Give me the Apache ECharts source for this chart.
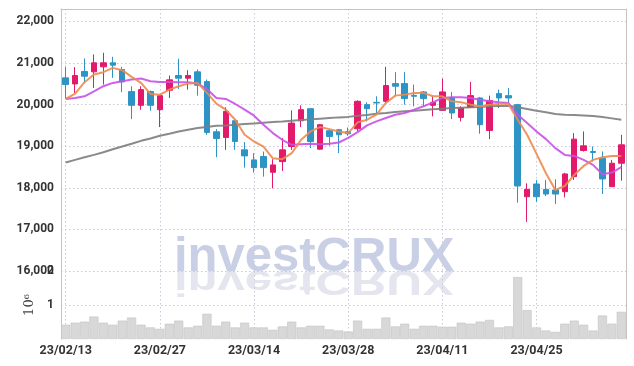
<!DOCTYPE html>
<html>
<head>
<meta charset="utf-8">
<script src="https://cdn.jsdelivr.net/npm/echarts@6/dist/echarts.min.js"></script>
<style>
html,body{margin:0;padding:0;background:#fff;}
#chart{width:634px;height:366px;}
</style>
</head>
<body>
<div id="chart"></div>
<script>
const categories = ['23/02/13','23/02/14','23/02/15','23/02/16','23/02/17','23/02/20','23/02/21','23/02/22','23/02/23','23/02/24',
'23/02/27','23/02/28','23/03/02','23/03/03','23/03/06','23/03/07','23/03/08','23/03/09','23/03/10','23/03/13',
'23/03/14','23/03/15','23/03/16','23/03/17','23/03/20','23/03/21','23/03/22','23/03/23','23/03/24','23/03/27',
'23/03/28','23/03/29','23/03/30','23/03/31','23/04/03','23/04/04','23/04/05','23/04/06','23/04/07','23/04/10',
'23/04/11','23/04/12','23/04/13','23/04/14','23/04/17','23/04/18','23/04/19','23/04/20','23/04/21','23/04/24',
'23/04/25','23/04/26','23/04/27','23/04/28','23/05/02','23/05/03','23/05/04','23/05/08','23/05/09','23/05/10'];

const opens  = [20644,20499,20797,20789,20910,21006,20845,20314,19984,20314,
19879,20346,20700,20636,20789,20555,19348,19211,19614,18913,
18672,18752,18374,18631,18993,19614,19903,18930,19372,19396,
19350,19420,20000,20056,20080,20507,20507,20225,20306,19984,
19863,20161,19694,19935,20161,19380,20266,20217,20000,17786,
18092,17964,17948,17907,18269,18897,18873,18712,18027,18591];
const closes = [20483,20700,20684,21006,21006,20950,20547,19984,20362,19984,
20217,20596,20636,20700,20467,19331,19187,19839,19114,18768,
18486,18486,18551,18913,19557,19879,19114,19517,19235,19276,
19300,20080,19903,20040,20459,20443,20145,20201,20145,20056,
20306,19799,19919,20217,19517,20097,20161,20161,18044,17964,
17786,17851,17851,18334,19171,19010,18850,18213,18591,19034];
const lows   = [20137,20282,20523,20402,20483,20644,20298,19654,19879,19855,
19461,20161,20378,20362,20217,19276,18736,18913,18913,18486,
18365,18269,17988,18406,18913,19461,18954,18913,19010,18833,
19250,19356,19597,19758,20040,20201,20000,19960,19944,19718,
19855,19654,19597,19919,19300,19171,19919,20024,17641,17182,
17665,17800,17609,17770,18189,18873,18631,17851,18027,18172];
const highs  = [20910,20902,21111,21208,21248,21151,20910,20443,20443,20340,
20240,20700,21103,20829,20845,20604,19412,19936,19638,19099,
18833,18873,18688,19195,19863,19984,19903,19530,19412,19412,
19450,20104,20056,20201,20910,20781,20781,20483,20330,20201,
20628,20306,19960,20547,20185,20217,20362,20403,20020,18108,
18189,18189,18205,18360,19316,19356,18993,18873,18672,19275];

const ma5 = [20137,20266,20539,20724,20781,20885,20829,20668,20523,20258,
20241,20362,20443,20507,20523,20282,20024,19879,19638,19276,
19114,18993,18711,18688,18833,19155,19356,19461,19412,19356,
19316,19573,19638,19758,20040,20217,20241,20282,20282,20201,
20201,20080,20056,20000,19960,20000,20024,20024,19638,19275,
18817,18350,17948,18044,18309,18527,18672,18736,18768,18768];
const ma20 = [20137,20161,20201,20322,20443,20523,20563,20604,20628,20563,
20547,20547,20539,20539,20507,20378,20161,20137,20016,19879,
19734,19517,19316,19155,19034,19050,19058,19050,19058,19090,
19200,19340,19501,19597,19678,19758,19799,19879,19960,20056,
20161,20177,20177,20161,20120,20080,20056,20040,19758,19557,
19356,19171,18954,18792,18768,18672,18551,18326,18366,18495];
const maLong = [18607,18672,18736,18792,18857,18929,18993,19058,19130,19187,
19251,19300,19356,19396,19436,19461,19493,19501,19517,19533,
19549,19565,19581,19597,19614,19630,19646,19662,19678,19694,
19706,19734,19750,19782,19799,19823,19839,19855,19871,19887,
19903,19919,19927,19935,19944,19960,19968,19976,19935,19895,
19855,19815,19774,19758,19750,19742,19726,19702,19670,19638];

const volumes = [0.42,0.48,0.51,0.66,0.48,0.42,0.54,0.63,0.42,0.34,
0.30,0.45,0.54,0.34,0.39,0.74,0.39,0.51,0.34,0.48,
0.34,0.34,0.27,0.37,0.51,0.34,0.39,0.39,0.28,0.25,
0.22,0.54,0.30,0.30,0.63,0.37,0.45,0.30,0.39,0.39,
0.36,0.36,0.48,0.45,0.51,0.56,0.34,0.37,1.82,0.85,
0.34,0.25,0.21,0.45,0.54,0.42,0.25,0.69,0.45,0.80];

const yTicks = [16000,17000,18000,19000,20000,21000,22000];
const volTicks = [1,2];

const candleData = categories.map((c,i)=>[opens[i],closes[i],lows[i],highs[i]]);

const UP = '#e3196b', DOWN = '#2e94c6';
const labelFont = {fontFamily:'Roboto', fontWeight:'bold', fontSize:12, color:'#333'};
const dottedStyle = {color:'#c9c9dc', type:[1.5,2.5], width:1};
const frame = {show:true, onZero:false, lineStyle:{color:'#c4c4c4', width:1}};

const chart = echarts.init(document.getElementById('chart'), null, {renderer:'canvas'});
chart.setOption({
  animation:false,
  backgroundColor:'#fff',
  graphic:[
    {type:'text', x:174, y:282, z:-10, silent:true,
     style:{text:'investCRUX', font:'bold 49px "Liberation Sans"', fill:'#c9d0e6', textVerticalAlign:'bottom'}},
    {type:'group', x:174, y:271, scaleY:-0.72, z:-10, silent:true, children:[
      {type:'text', x:0, y:11, style:{text:'investCRUX', font:'bold 49px "Liberation Sans"', fill:'#e4e5ee', textVerticalAlign:'bottom'}}
    ]}
  ],
  grid:[
    {left:61, right:8, top:9, height:262},
    {left:61, right:8, top:271, height:68}
  ],
  xAxis:[
    {type:'category', gridIndex:0, data:categories, position:'top', boundaryGap:true,
     axisLine:frame, axisTick:{show:false}, axisLabel:{show:false},
     splitLine:{show:true, interval:9, alignWithLabel:true, lineStyle:dottedStyle}},
    {type:'category', gridIndex:1, data:categories, boundaryGap:true,
     axisLine:{show:false, onZero:false}, axisTick:{show:false, interval:9, alignWithLabel:true},
     axisLabel:Object.assign({interval:9, margin:5}, labelFont, {fontSize:12.5}),
     splitLine:{show:true, interval:9, alignWithLabel:true, lineStyle:dottedStyle}}
  ],
  yAxis:[
    {type:'value', gridIndex:0, min:yTicks[0], max:22300, interval:1000,
     axisLine:frame, axisTick:{show:false},
     axisLabel:Object.assign({margin:7, formatter:v=> yTicks.includes(v) ? v.toLocaleString('en-US') : ''}, labelFont),
     splitLine:{show:true, showMinLine:true, showMaxLine:false, lineStyle:dottedStyle}},
    {type:'value', gridIndex:1, min:0, max:volTicks[1], interval:1,
     axisLine:frame, axisTick:{show:false},
     name:'10\u2076', nameLocation:'middle', nameRotate:90, nameGap:19,
     nameTextStyle:{fontFamily:'DejaVu Serif', fontSize:13, color:'#444'},
     axisLabel:Object.assign({margin:7, showMinLabel:false, formatter:v=> volTicks.includes(v)? String(v):''}, labelFont),
     splitLine:{show:true, showMinLine:false, showMaxLine:false, lineStyle:dottedStyle}},
    {type:'value', gridIndex:0, position:'right', min:0, max:1,
     axisLine:frame, axisTick:{show:false}, axisLabel:{show:false}, splitLine:{show:false}},
    {type:'value', gridIndex:1, position:'right', min:0, max:1,
     axisLine:frame, axisTick:{show:false}, axisLabel:{show:false}, splitLine:{show:false}}
  ],
  series:[
    {type:'candlestick', xAxisIndex:0, yAxisIndex:0, data:candleData, barWidth:6,
     itemStyle:{color:UP, color0:DOWN, borderColor:UP, borderColor0:DOWN, borderWidth:1}},
    {type:'line', xAxisIndex:0, yAxisIndex:0, data:maLong, symbol:'none', z:3,
     lineStyle:{color:'#7d7d7d', width:2, opacity:0.9}},
    {type:'line', xAxisIndex:0, yAxisIndex:0, data:ma20, symbol:'none', z:3,
     lineStyle:{color:'#c851e6', width:2, opacity:0.9}},
    {type:'line', xAxisIndex:0, yAxisIndex:0, data:ma5, symbol:'none', z:3,
     lineStyle:{color:'#ee8a4e', width:2, opacity:0.9}},
    {type:'bar', xAxisIndex:1, yAxisIndex:1, data:volumes, barCategoryGap:'4%',
     itemStyle:{color:'#d8d8d8', borderColor:'#c2c2c2', borderWidth:0.6}}
  ]
});
</script>
</body>
</html>
